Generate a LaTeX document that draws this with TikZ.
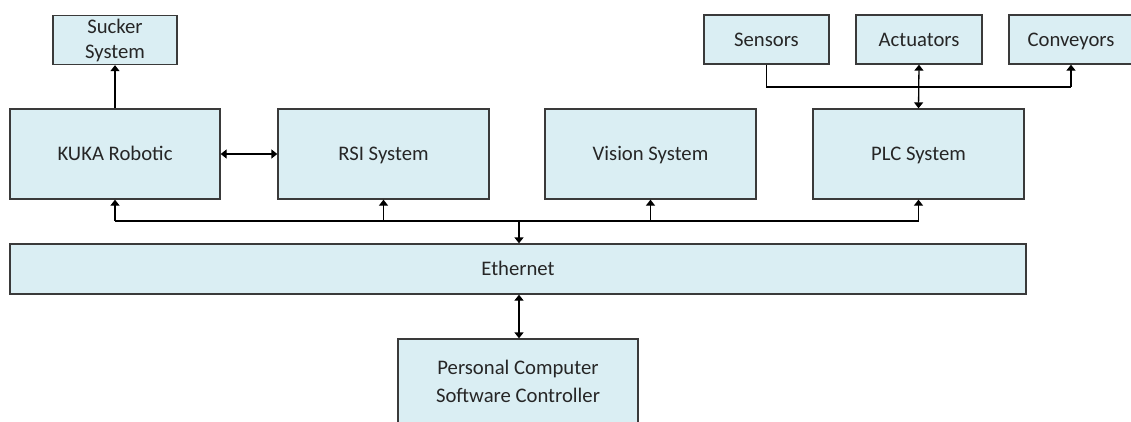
\documentclass[tikz,border=0pt]{standalone}
\usepackage{fontspec}
\setmainfont{Carlito}
\usetikzlibrary{arrows.meta}
\definecolor{boxfill}{HTML}{DAEEF3}
\definecolor{boxline}{HTML}{3A3A3A}
\begin{document}
\begin{tikzpicture}[x=1pt,y=-1pt,
  blk/.style={draw=boxline,fill=boxfill,line width=1.3pt,inner sep=0pt,align=center,
    font=\fontsize{20.7}{25}\selectfont,text=black!85},
  one/.style={blk,text height=16pt,text depth=2.6pt},
  conn/.style={draw=black,line width=1.3pt},
  arr/.style={conn,-{Triangle[width=9pt,length=6pt]}},
  biarr/.style={conn,{Triangle[width=9pt,length=6pt]}-{Triangle[width=9pt,length=6pt]}}]
\useasboundingbox (0,0) rectangle (1131,421);
% top row
\node[blk,minimum width=124pt,minimum height=49pt] (sucker) at (115,40) {Sucker\\System};
\node[one,minimum width=125pt,minimum height=49pt] (sensors) at (766.5,39.5) {Sensors};
\node[one,minimum width=126pt,minimum height=49pt] (actuators) at (919,39.5) {Actuators};
\node[one,minimum width=124pt,minimum height=49pt] (conveyors) at (1071,39.5) {Conveyors};
% middle row
\node[one,minimum width=210pt,minimum height=90pt] (kuka) at (115,154) {KUKA Robotic};
\node[one,minimum width=211pt,minimum height=90pt] (rsi) at (383.5,154) {RSI System};
\node[one,minimum width=211pt,minimum height=90pt] (vision) at (650.5,154) {Vision System};
\node[one,minimum width=211pt,minimum height=90pt] (plc) at (918.5,154) {PLC System};
% ethernet
\node[one,minimum width=1016pt,minimum height=50pt] (eth) at (518,269) {Ethernet};
% pc
\node[blk,minimum width=240pt,minimum height=84pt,font=\fontsize{20.7}{28}\selectfont] (pc) at (518,381) {Personal Computer\\Software Controller};
% connectors
\draw[arr] (kuka.north) -- (sucker.south);
\draw[biarr] (kuka.east) -- (rsi.west);
\draw[biarr] (plc.north) -- (actuators.south);
\coordinate (tbus) at (919,87);
\draw[conn] (sensors.south) -- (sensors.south |- tbus) -- (conveyors.south |- tbus);
\draw[arr] (conveyors.south |- tbus) -- (conveyors.south);
\coordinate (bus) at (519,221);
\draw[conn] (kuka.south |- bus) -- (plc.south |- bus);
\draw[arr] (kuka.south |- bus) -- (kuka.south);
\draw[arr] (rsi.south |- bus) -- (rsi.south);
\draw[arr] (vision.south |- bus) -- (vision.south);
\draw[arr] (plc.south |- bus) -- (plc.south);
\draw[arr] (bus) -- (bus |- eth.north);
\draw[biarr] (bus |- eth.south) -- (bus |- pc.north);
\end{tikzpicture}
\end{document}
